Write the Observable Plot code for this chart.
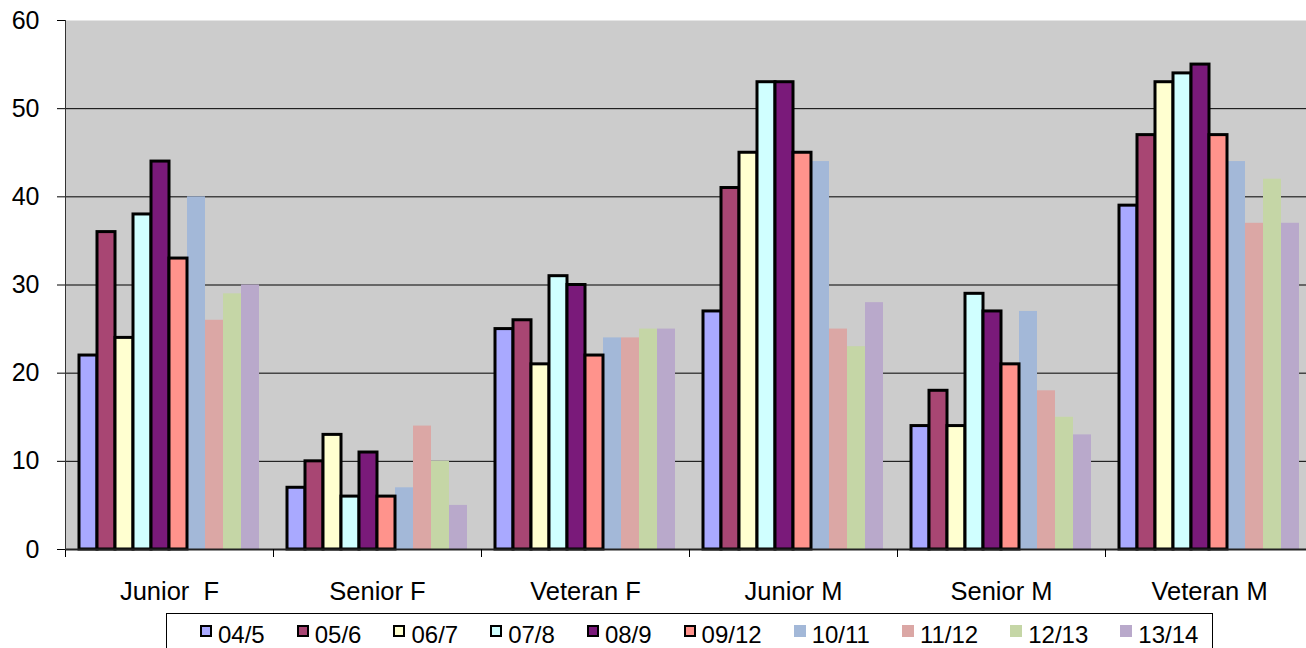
<!DOCTYPE html>
<html><head><meta charset="utf-8">
<script src="https://cdn.jsdelivr.net/npm/d3@7"></script>
<script src="https://cdn.jsdelivr.net/npm/@observablehq/plot@0.6"></script>
<style>
html,body{margin:0;padding:0;overflow:hidden;background:#fff;font-family:"Liberation Sans",Arial,sans-serif;}
#chart{position:absolute;left:0;top:0;}
svg text{white-space:pre;}
#legend{position:absolute;left:166px;top:613px;width:1047px;height:50px;border:1px solid #000;box-sizing:border-box;
  display:flex;flex-direction:row;align-items:flex-start;padding-left:33px;padding-top:7px;background:#fff;}
.item{display:flex;flex-direction:row;align-items:flex-start;margin-right:32px;font-size:24px;line-height:27px;color:#000;}
.sw{width:12px;height:12px;box-sizing:border-box;margin-top:4px;margin-right:6px;}
</style></head><body><div id="chart"></div><div id="legend"></div>
<script>
const groups = ["Junior  F","Senior F","Veteran F","Junior M","Senior M","Veteran M"];
const seasons = ["04/5","05/6","06/7","07/8","08/9","09/12","10/11","11/12","12/13","13/14"];
const juniorF  = [22,36,24,38,44,33,40,26,29,30];
const seniorF  = [7,10,13,6,11,6,7,14,10,5];
const veteranF = [25,26,21,31,30,22,24,24,25,25];
const juniorM  = [27,41,45,53,53,45,44,25,23,28];
const seniorM  = [14,18,14,29,27,21,27,18,15,13];
const veteranM = [39,47,53,54,55,47,44,37,42,37];
const colors = ["#A9A9FF","#A84673","#FFFFD0","#D0FFFF","#7A1A7A","#FF938C","#A3B8D8","#DBA7A5","#C5D6A6","#B9A9CB"];
const outlined = [true,true,true,true,true,true,false,false,false,false];
const yTicks = [0,10,20,30,40,50,60];

const seriesByGroup = [juniorF, seniorF, veteranF, juniorM, seniorM, veteranM];
const rows = groups.flatMap((g, gi) => seasons.map((s, si) => ({group: g, season: s, value: seriesByGroup[gi][si], outlined: outlined[si]})));

const chart = Plot.plot({
  width: 1313, height: 612,
  marginLeft: 65, marginRight: 0, marginTop: 20, marginBottom: 63,
  style: {fontFamily: "Liberation Sans, Arial, sans-serif", fontSize: "25px", background: "white", color: "black", overflow: "visible", maxWidth: "none"},
  fx: {domain: groups, padding: 0, label: null},
  x: {domain: seasons, paddingInner: 0, paddingOuter: 0.7, axis: null},
  y: {domain: [0, 60], label: null},
  color: {domain: seasons, range: colors},
  marks: [
    Plot.frame({fill: "#CCCCCC", stroke: "none", facet: "super"}),
    Plot.gridY(yTicks.slice(1, -1), {stroke: "#000", strokeOpacity: 1, strokeWidth: 1}),
    Plot.barY(rows.filter(d => !d.outlined), {fx: "group", x: "season", y: "value", fill: "season"}),
    Plot.barY(rows.filter(d => d.outlined), {fx: "group", x: "season", y: "value", fill: "season", stroke: "#000", strokeWidth: 3}),
    Plot.ruleY([0], {stroke: "#222", strokeWidth: 2}),
    Plot.frame({anchor: "left", stroke: "#000", insetTop: 529, insetBottom: -7}),
    Plot.frame({anchor: "left", stroke: "#333", facet: "super"}),
    Plot.axisY(yTicks, {tickSize: 8, tickPadding: 18, fontSize: 25}),
    Plot.axisFx({anchor: "bottom", tickSize: 0, tickPadding: 32, fontSize: 25.5, label: null})
  ]
});
document.getElementById("chart").appendChild(chart);

const legend = document.getElementById("legend");
seasons.forEach((s, i) => {
  const item = document.createElement("div");
  item.className = "item";
  const sw = document.createElement("div");
  sw.className = "sw";
  sw.style.background = colors[i];
  if (outlined[i]) sw.style.border = "2px solid #000";
  const t = document.createElement("span");
  t.textContent = s;
  item.appendChild(sw);
  item.appendChild(t);
  legend.appendChild(item);
});
</script>
</body></html>
